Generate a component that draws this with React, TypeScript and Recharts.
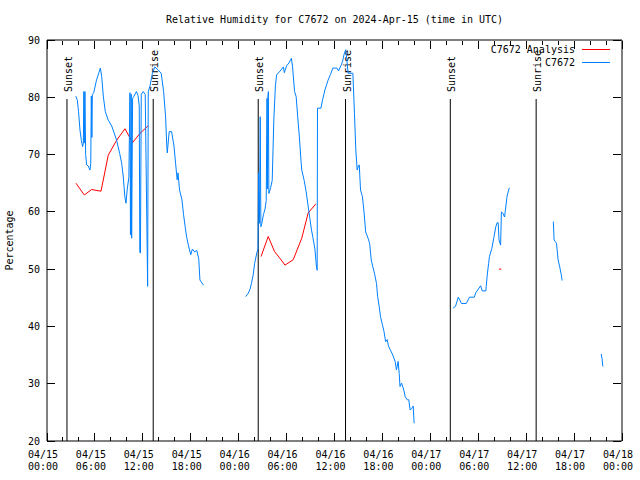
import React from 'react';
import { LineChart, Line, XAxis, YAxis, ReferenceLine, Legend } from 'recharts';

// hours since 2024-04-15 00:00 UTC, relative humidity (%); null = no data
const observed: [number, number | null][] = [
  [3.6, 80.2], [3.8, 79.5], [3.95, 77.5], [4.13, 74.3], [4.3, 72.5], [4.46, 71.4], [4.55, 72],
  [4.62, 81], [4.67, 72], [4.75, 81], [4.84, 70], [4.96, 68.2], [5.17, 68], [5.38, 67.3],
  [5.48, 68.5], [5.55, 80.2], [5.62, 73], [5.68, 80.5], [5.85, 80.8], [6.2, 83], [6.5, 84.3],
  [6.68, 85.1], [6.85, 83.6], [7.05, 80.2], [7.3, 77.5], [7.67, 76], [8.1, 75], [8.72, 72.5],
  [9.1, 70.2], [9.35, 68.5], [9.55, 66.1], [9.75, 62.6], [9.89, 61.5], [10.05, 64], [10.25, 66],
  [10.39, 80.8], [10.45, 56], [10.55, 80.5], [10.6, 55.4], [10.72, 79.8], [10.85, 80.1],
  [11.2, 81], [11.4, 80.3], [11.55, 78.5], [11.62, 53], [11.7, 52.8], [11.8, 80.5], [12.05, 81],
  [12.3, 80.5], [12.45, 63.8], [12.6, 47], [12.68, 81], [12.9, 82], [13.2, 84.2], [13.5, 85.3],
  [13.9, 84.8], [14.3, 84.2], [14.6, 81], [14.85, 76.6], [15.0, 71.5], [15.06, 70.3], [15.3, 74],
  [15.6, 74], [15.9, 71.5], [16.1, 68.5], [16.3, 65.6], [16.4, 66.8], [16.6, 63.8], [16.9, 62.1],
  [17.1, 59.5], [17.3, 57.4], [17.5, 55.5], [17.7, 54.2], [18.0, 52.5], [18.2, 53.5], [18.5, 53],
  [18.75, 53.3], [19.0, 51.8], [19.15, 48.1], [19.6, 47.2],
  [22, null],
  [24.87, 45.2], [25.2, 45.8], [25.4, 46.4], [25.6, 47.5], [25.82, 49], [26.0, 51], [26.3, 53],
  [26.42, 53.5], [26.5, 66.8], [26.6, 58], [26.7, 76.6], [26.78, 57.4], [26.9, 58], [27.1, 59.5],
  [27.3, 60.5], [27.45, 62], [27.55, 79.8], [27.6, 64], [27.66, 80.1], [27.72, 81], [27.78, 63.2],
  [28.0, 64.2], [28.2, 65.5], [28.4, 76], [28.6, 82], [28.75, 83.9], [29.2, 84.6], [29.6, 85.3],
  [29.72, 84.3], [30.0, 85.5], [30.3, 86], [30.6, 86.8], [30.75, 85.3], [31.0, 81], [31.2, 80.1],
  [31.4, 76.5], [31.6, 73.1], [31.8, 69], [31.9, 67.3], [32.2, 65.5], [32.45, 63.5], [32.7, 61],
  [32.9, 59], [33.1, 57], [33.3, 55.5], [33.55, 53.5], [33.75, 50.3], [33.83, 49.8], [33.87, 78.1],
  [34.3, 78.1], [34.5, 79.5], [34.8, 81.3], [35.2, 83], [35.5, 84], [35.8, 85.1], [36.3, 85.1],
  [36.5, 84.6], [36.8, 85.5], [37.0, 86.2], [37.2, 87.5], [37.4, 88.3], [37.55, 86.5], [37.7, 84.2],
  [38.3, 84.2], [38.5, 77.2], [38.67, 70.8], [38.84, 67.3], [39.0, 68], [39.1, 68.2], [39.26, 63.8],
  [39.5, 62.65], [39.71, 59.75], [39.9, 56.5], [40.2, 55.4], [40.4, 54.5], [40.6, 51.6], [40.8, 50.4],
  [41.0, 49.3], [41.26, 47.5], [41.4, 45.2], [41.6, 43.45], [41.76, 41.7], [42.0, 40.3], [42.2, 39.1],
  [42.4, 37.35], [42.6, 37.7], [42.75, 36.6], [42.99, 35.9], [43.3, 35.0], [43.6, 33.85], [43.76, 32.4],
  [43.97, 33.9], [44.1, 31.8], [44.2, 29.5], [44.4, 30.1], [44.68, 28.9], [44.85, 27.75], [45.1, 27.2],
  [45.3, 27.2], [45.47, 25.4], [45.68, 25.7], [45.85, 26.1], [45.97, 23.1],
  [48, null],
  [50.85, 43.2], [51.15, 43.5], [51.5, 45.1], [51.7, 44.6], [51.9, 44.0], [52.5, 44.0], [52.9, 45.1],
  [53.5, 45.1], [53.7, 45.9], [54.0, 46.5], [54.3, 47.1], [54.5, 46.2], [54.95, 46.2], [55.0, 47.0],
  [55.15, 49.3], [55.3, 51.0], [55.4, 52.2], [55.7, 53.6], [55.94, 55.4], [56.2, 57.4], [56.36, 58.1],
  [56.5, 58.1], [56.6, 55.1], [56.8, 54.2], [56.9, 60.0], [57.1, 59.7], [57.3, 59.1], [57.4, 60.3],
  [57.6, 62.65], [57.8, 63.8], [57.9, 64.2],
  [60, null],
  [63.4, 58.3], [63.5, 55.1], [63.66, 54.8], [63.8, 54.5], [64.0, 51.6], [64.2, 50.4], [64.4, 49.0],
  [64.5, 48.0],
  [67, null],
  [69.4, 35.2], [69.5, 34.4], [69.6, 33.0],
];

const analysis: [number, number | null][] = [
  [3.63, 65], [4.67, 62.95], [5.59, 63.9], [6.76, 63.6], [7.67, 69.9], [8.72, 72.5], [9.76, 74.5],
  [10.72, 72.1], [11.64, 73.7], [12.68, 75.05],
  [20, null],
  [26.8, 52.2], [27.7, 55.7], [28.5, 53.05], [29.16, 51.9], [29.8, 50.7], [30.83, 51.65], [31.9, 55.4],
  [32.7, 59.8], [33.67, 61.4],
  [45, null],
  [56.6, 50], [56.9, 50],
];

const sunsets = [2.5, 26.45, 50.5];
const sunrises = [13.3, 37.38, 61.25];
const markerTop = 79.7;

const xTicks = Array.from({ length: 37 }, (_, i) => i * 2);
const yTicks = [20, 30, 40, 50, 60, 70, 80, 90];

const FONT = 'DejaVu Sans Mono, monospace';
const BLUE = '#0080ff';
const RED = '#ff0000';

const toRows = (pts: [number, number | null][]) => pts.map(([h, v]) => ({ h, v }));

const pad = (n: number) => String(n).padStart(2, '0');

function BottomTick(props: any) {
  const { x, y, payload } = props;
  const h = payload.value;
  const major = h % 6 === 0;
  const day = 15 + Math.floor(h / 24);
  const lx = x - 4;
  return (
    <g>
      <line x1={x} y1={y} x2={x} y2={y - (major ? 8 : 4)} stroke="#000" shapeRendering="crispEdges" />
      {major && (
        <text x={lx} y={y + 16.5} textAnchor="middle" fontFamily={FONT} fontSize={10} fill="#000">
          <tspan x={lx}>{`04/${pad(day)}`}</tspan>
          <tspan x={lx} dy={12.5}>{`${pad(h % 24)}:00`}</tspan>
        </text>
      )}
    </g>
  );
}

function TopTick(props: any) {
  const { x, y, payload } = props;
  const major = payload.value % 6 === 0;
  const y0 = y + 1;
  return <line x1={x} y1={y0} x2={x} y2={y0 + (major ? 8 : 4)} stroke="#000" shapeRendering="crispEdges" />;
}

function LeftTick(props: any) {
  const { x, y, payload } = props;
  return (
    <g>
      <line x1={x} y1={y} x2={x + 8} y2={y} stroke="#000" shapeRendering="crispEdges" />
      <text x={x - 7} y={y + 3.5} textAnchor="end" fontFamily={FONT} fontSize={10} fill="#000">
        {payload.value}
      </text>
    </g>
  );
}

function RightTick(props: any) {
  const { x, y } = props;
  const x0 = x - 1;
  return <line x1={x0} y1={y} x2={x0 - 8} y2={y} stroke="#000" shapeRendering="crispEdges" />;
}

function SunLabel(props: any) {
  const { viewBox, text } = props;
  const x = viewBox.x + 5;
  const y = viewBox.y - 7;
  return (
    <text x={x} y={y} transform={`rotate(-90 ${x} ${y})`} fontFamily={FONT} fontSize={10} fill="#000">
      {text}
    </text>
  );
}

function AxisTitle(props: any) {
  const { viewBox, text } = props;
  const x = viewBox.x + 6;
  const y = viewBox.y + viewBox.height / 2;
  return (
    <text x={x} y={y} transform={`rotate(-90 ${x} ${y})`} textAnchor="middle" fontFamily={FONT} fontSize={10} fill="#000">
      {text}
    </text>
  );
}

function LegendBox() {
  const items = [
    { name: 'C7672 Analysis', color: RED },
    { name: 'C7672', color: BLUE },
  ];
  return (
    <div style={{ fontFamily: FONT, fontSize: 10, color: '#000' }}>
      {items.map((it) => (
        <div key={it.name} style={{ display: 'flex', justifyContent: 'flex-end', alignItems: 'center', height: 13 }}>
          <span style={{ marginRight: 7, lineHeight: '13px' }}>{it.name}</span>
          <svg width={28} height={13}>
            <line x1={0} y1={6.5} x2={28} y2={6.5} stroke={it.color} strokeWidth={1} />
          </svg>
        </div>
      ))}
    </div>
  );
}

export default function App() {
  const obsRows = toRows(observed);
  const anaRows = toRows(analysis);

  return (
    <div style={{ position: 'absolute', left: 0, top: 0, width: 640, height: 480, background: '#fff' }}>
      <div
        style={{
          position: 'absolute', left: 47, top: 13, width: 575, textAlign: 'center',
          fontFamily: FONT, fontSize: 10, lineHeight: '14px', color: '#000',
        }}
      >
        Relative Humidity for C7672 on 2024-Apr-15 (time in UTC)
      </div>
      <LineChart width={640} height={480} margin={{ top: 39, right: 17, bottom: 9, left: 7 }}>
        <XAxis
          type="number" dataKey="h" domain={[0, 72]} ticks={xTicks} interval={0}
          height={30} tickSize={0} tickMargin={0} tickLine={false}
          axisLine={{ stroke: '#000' }} tick={<BottomTick />} allowDataOverflow
        />
        <XAxis
          xAxisId="top" orientation="top" type="number" dataKey="h" domain={[0, 72]} ticks={xTicks}
          interval={0} height={1} tickSize={0} tickMargin={0} tickLine={false}
          axisLine={{ stroke: '#000' }} tick={<TopTick />} allowDataOverflow
        />
        <YAxis
          type="number" domain={[20, 90]} ticks={yTicks} interval={0} width={40}
          tickSize={0} tickMargin={0} tickLine={false} axisLine={{ stroke: '#000' }}
          tick={<LeftTick />} allowDataOverflow
          label={<AxisTitle text="Percentage" />}
        />
        <YAxis
          yAxisId="right" orientation="right" type="number" domain={[20, 90]} ticks={yTicks}
          interval={0} width={1} tickSize={0} tickMargin={0} tickLine={false}
          axisLine={{ stroke: '#000' }} tick={<RightTick />} allowDataOverflow
        />
        {sunsets.map((t) => (
          <ReferenceLine
            key={`ss${t}`} segment={[{ x: t, y: 20 }, { x: t, y: markerTop }]}
            stroke="#000" strokeWidth={1} label={<SunLabel text="Sunset" />}
          />
        ))}
        {sunrises.map((t) => (
          <ReferenceLine
            key={`sr${t}`} segment={[{ x: t, y: 20 }, { x: t, y: markerTop }]}
            stroke="#000" strokeWidth={1} label={<SunLabel text="Sunrise" />}
          />
        ))}
        <Line
          data={anaRows} dataKey="v" name="C7672 Analysis" type="linear" stroke={RED}
          strokeWidth={1} dot={false} activeDot={false} isAnimationActive={false}
        />
        <Line
          data={obsRows} dataKey="v" name="C7672" type="linear" stroke={BLUE}
          strokeWidth={1} dot={false} activeDot={false} isAnimationActive={false}
        />
        <Legend
          layout="vertical" align="center" verticalAlign="middle"
          wrapperStyle={{ top: 43, left: 400, width: 210 }}
          content={() => <LegendBox />}
        />
      </LineChart>
    </div>
  );
}
